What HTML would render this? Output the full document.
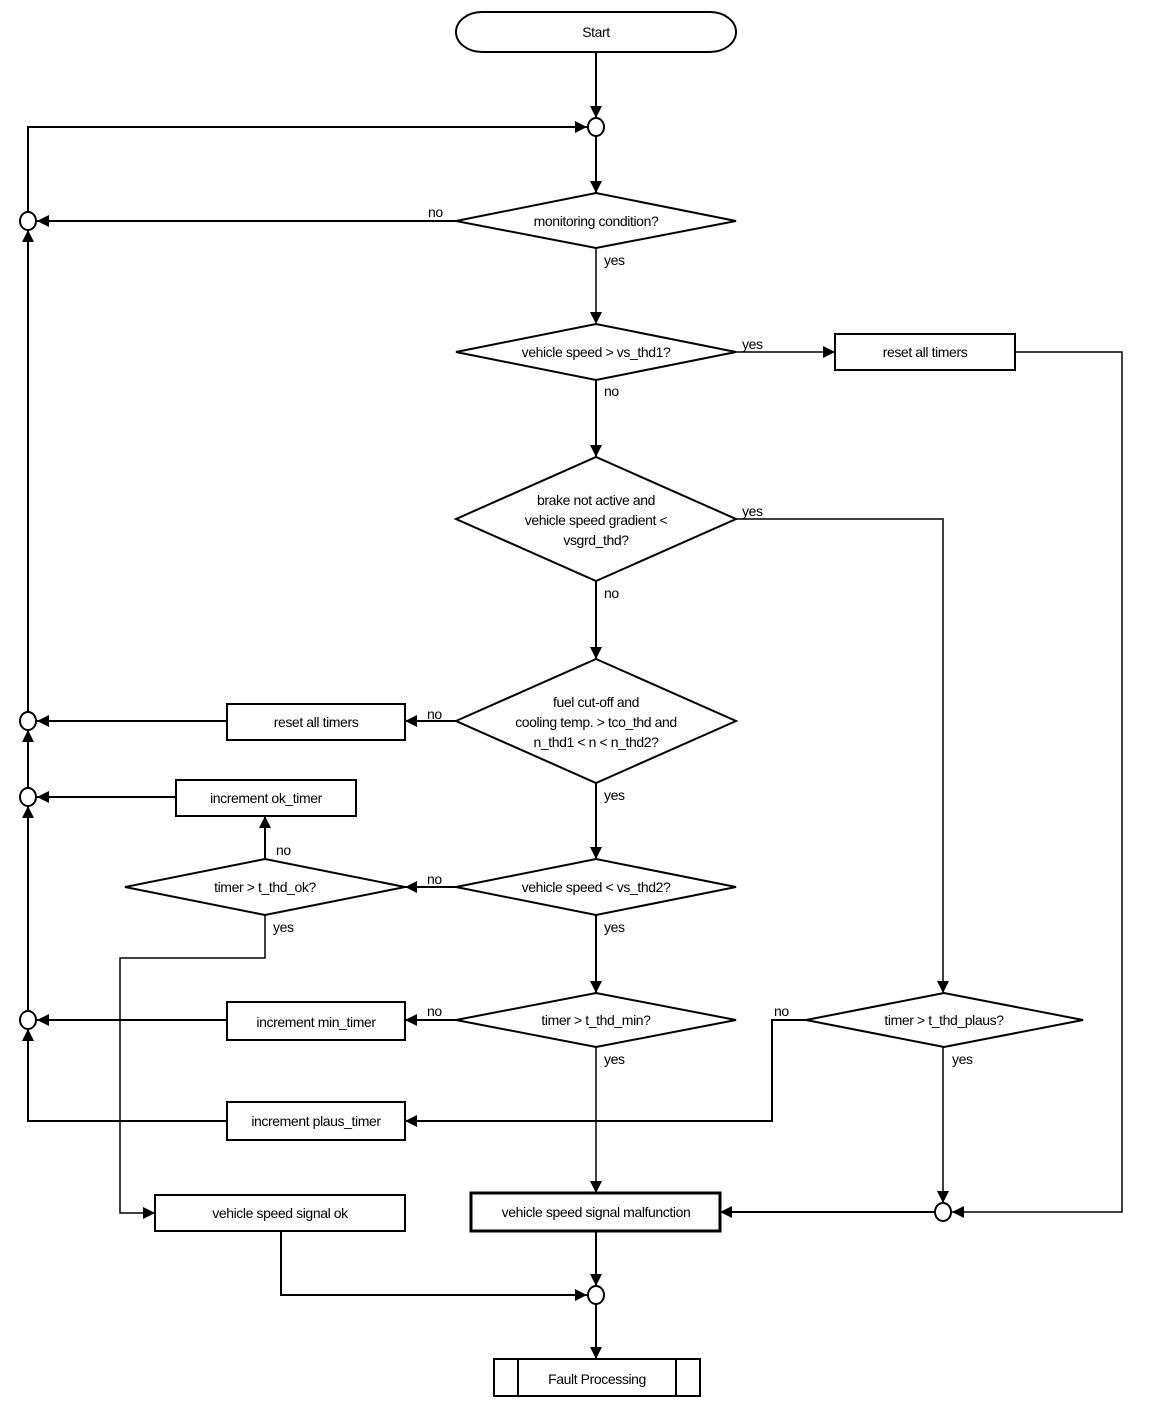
<!DOCTYPE html>
<html><head><style>
html,body{margin:0;padding:0;background:#fff;}
svg text{font-family:"Liberation Sans",Arial,sans-serif;font-size:14px;fill:#000;letter-spacing:-0.4px;}
</style></head><body>
<svg width="1152" height="1410" viewBox="0 0 1152 1410" xmlns="http://www.w3.org/2000/svg">
<defs>
<marker id="a" viewBox="0 0 10 10" refX="10" refY="5" markerWidth="13" markerHeight="12" markerUnits="userSpaceOnUse" orient="auto">
<path d="M0,0 L10,5 L0,10 z" fill="#000"/></marker>
</defs>
<g fill="none" stroke="#000" stroke-width="2">
<rect x="456" y="12" width="280" height="40" rx="26" ry="20" fill="#fff"/>
<polygon points="456,221 596,193 736,221 596,248" fill="#fff"/>
<polygon points="456,352 596,324 736,352 596,380" fill="#fff"/>
<polygon points="456,519 596,457 736,519 596,581" fill="#fff"/>
<polygon points="456,721 596,659 736,721 596,783" fill="#fff"/>
<polygon points="456,887 596,859 736,887 596,915" fill="#fff"/>
<polygon points="125,887 265,859 405,887 265,915" fill="#fff"/>
<polygon points="456,1020 596,993 736,1020 596,1047" fill="#fff"/>
<polygon points="806,1020 944,993 1083,1020 944,1047" fill="#fff"/>
<rect x="835" y="334" width="180" height="36"/>
<rect x="227" y="704" width="178" height="36"/>
<rect x="176" y="780" width="180" height="36"/>
<rect x="227" y="1002" width="178" height="38"/>
<rect x="227" y="1102" width="178" height="38"/>
<rect x="155" y="1195" width="250" height="36"/>
<rect x="471" y="1193" width="249" height="38" stroke-width="3"/>
<rect x="494" y="1359" width="206" height="37"/>
<line x1="518" y1="1359" x2="518" y2="1396"/>
<line x1="676" y1="1359" x2="676" y2="1396"/>
<ellipse cx="596" cy="127" rx="8" ry="9"/>
<ellipse cx="28" cy="221" rx="8" ry="9"/>
<ellipse cx="28" cy="721" rx="8" ry="9"/>
<ellipse cx="28" cy="797" rx="8" ry="9"/>
<ellipse cx="28" cy="1020" rx="8" ry="9"/>
<ellipse cx="943" cy="1212" rx="8" ry="9"/>
<ellipse cx="596" cy="1295" rx="8" ry="9"/>
<line x1="596" y1="52" x2="596" y2="118" marker-end="url(#a)"/>
<line x1="596" y1="136" x2="596" y2="193" marker-end="url(#a)"/>
<polyline points="28,212 28,127 587,127" marker-end="url(#a)"/>
<line x1="456" y1="221" x2="37" y2="221" marker-end="url(#a)"/>
<line x1="28" y1="712" x2="28" y2="230" marker-end="url(#a)"/>
<line x1="596" y1="248" x2="596" y2="324" stroke-width="1.5" marker-end="url(#a)"/>
<line x1="736" y1="352" x2="835" y2="352" stroke-width="1.5" marker-end="url(#a)"/>
<polyline points="1015,352 1122,352 1122,1212 952,1212" stroke-width="1.5" marker-end="url(#a)"/>
<line x1="596" y1="380" x2="596" y2="457" marker-end="url(#a)"/>
<polyline points="736,519 943,519 943,993" stroke-width="1.5" marker-end="url(#a)"/>
<line x1="596" y1="581" x2="596" y2="659" marker-end="url(#a)"/>
<line x1="456" y1="721" x2="405" y2="721" marker-end="url(#a)"/>
<line x1="227" y1="721" x2="37" y2="721" marker-end="url(#a)"/>
<line x1="28" y1="788" x2="28" y2="730" marker-end="url(#a)"/>
<line x1="176" y1="797" x2="37" y2="797" marker-end="url(#a)"/>
<line x1="28" y1="1011" x2="28" y2="806" marker-end="url(#a)"/>
<line x1="596" y1="783" x2="596" y2="859" marker-end="url(#a)"/>
<line x1="456" y1="887" x2="405" y2="887" marker-end="url(#a)"/>
<line x1="265" y1="859" x2="265" y2="816" marker-end="url(#a)"/>
<polyline points="265,915 265,958 120,958 120,1213 155,1213" stroke-width="1.5" marker-end="url(#a)"/>
<line x1="596" y1="915" x2="596" y2="993" marker-end="url(#a)"/>
<line x1="456" y1="1020" x2="405" y2="1020" marker-end="url(#a)"/>
<line x1="227" y1="1020" x2="37" y2="1020" marker-end="url(#a)"/>
<polyline points="227,1121 28,1121 28,1029" marker-end="url(#a)"/>
<polyline points="806,1020 772,1020 772,1121 405,1121" marker-end="url(#a)"/>
<line x1="596" y1="1047" x2="596" y2="1193" stroke-width="1.5" marker-end="url(#a)"/>
<line x1="943" y1="1047" x2="943" y2="1203" stroke-width="1.5" marker-end="url(#a)"/>
<line x1="934" y1="1212" x2="720" y2="1212" marker-end="url(#a)"/>
<line x1="596" y1="1231" x2="596" y2="1286" marker-end="url(#a)"/>
<polyline points="281,1231 281,1295 587,1295" marker-end="url(#a)"/>
<line x1="596" y1="1304" x2="596" y2="1359" marker-end="url(#a)"/>
</g>
<g text-anchor="middle">
<text x="596" y="37">Start</text>
<text x="596" y="226">monitoring condition?</text>
<text x="596" y="357">vehicle speed &gt; vs_thd1?</text>
<text x="925" y="357">reset all timers</text>
<text x="596" y="505">brake not active and</text>
<text x="596" y="525">vehicle speed gradient &lt;</text>
<text x="596" y="545">vsgrd_thd?</text>
<text x="596" y="707">fuel cut-off and</text>
<text x="596" y="727">cooling temp. &gt; tco_thd and</text>
<text x="596" y="747">n_thd1 &lt; n &lt; n_thd2?</text>
<text x="316" y="727">reset all timers</text>
<text x="266" y="803">increment ok_timer</text>
<text x="265" y="892">timer &gt; t_thd_ok?</text>
<text x="596" y="892">vehicle speed &lt; vs_thd2?</text>
<text x="596" y="1025">timer &gt; t_thd_min?</text>
<text x="944" y="1025">timer &gt; t_thd_plaus?</text>
<text x="316" y="1027">increment min_timer</text>
<text x="316" y="1126">increment plaus_timer</text>
<text x="280" y="1218">vehicle speed signal ok</text>
<text x="596" y="1217">vehicle speed signal malfunction</text>
<text x="597" y="1384">Fault Processing</text>
</g>
<g>
<text x="428" y="217">no</text>
<text x="604" y="265">yes</text>
<text x="742" y="349">yes</text>
<text x="604" y="396">no</text>
<text x="742" y="516">yes</text>
<text x="604" y="598">no</text>
<text x="427" y="719">no</text>
<text x="604" y="800">yes</text>
<text x="276" y="855">no</text>
<text x="427" y="884">no</text>
<text x="273" y="932">yes</text>
<text x="604" y="932">yes</text>
<text x="427" y="1016">no</text>
<text x="774" y="1016">no</text>
<text x="604" y="1064">yes</text>
<text x="952" y="1064">yes</text>
</g>
</svg>
</body></html>
